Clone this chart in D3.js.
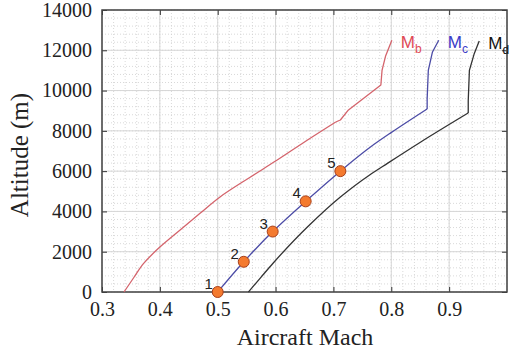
<!DOCTYPE html>
<html>
<head>
<meta charset="utf-8">
<script src="https://cdn.jsdelivr.net/npm/d3@7"></script>
<style>
  body { margin: 0; background: #fff; }
  svg { display: block; }
</style>
</head>
<body>
<svg width="513" height="349"></svg>
<script>
// Curve data: [Mach, altitude (m)]
var mbCurve = [[0.338,0],[0.355,720],[0.372,1420],[0.40,2230],[0.435,3080],[0.47,3920],[0.504,4720],
  [0.556,5700],[0.60,6500],[0.65,7450],[0.704,8440],[0.712,8540],[0.726,9040],[0.782,10280],
  [0.784,11000],[0.790,11700],[0.801,12500]];
var mcCurve = [[0.5,0],[0.545,1500],[0.595,3000],[0.652,4500],[0.712,6000],[0.764,7200],[0.799,7900],
  [0.862,9090],[0.862,9600],[0.864,11000],[0.871,11900],[0.882,12500]];
var mdCurve = [[0.553,0],[0.575,740],[0.596,1440],[0.655,3230],[0.712,4720],[0.762,5800],[0.794,6400],
  [0.851,7450],[0.933,8890],[0.933,9500],[0.935,11000],[0.943,11800],[0.952,12460]];
// index where the smooth climb ends and the straight upper segments start
var mbKink = 10, mcKink = 7, mdKink = 8;
var pointMach = [0.5, 0.545, 0.595, 0.652, 0.712];
var pointAlt = [0, 1500, 3000, 4500, 6000];
var pointLabels = ["1", "2", "3", "4", "5"];
var xTicks = [0.3, 0.4, 0.5, 0.6, 0.7, 0.8, 0.9];
var yTicks = [0, 2000, 4000, 6000, 8000, 10000, 12000, 14000];

var svg = d3.select("svg");
var plotLeft = 102, plotRight = 507, plotTop = 10, plotBottom = 292;

var x = d3.scaleLinear().domain([0.3, 1.0]).range([plotLeft, plotRight]);
var y = d3.scaleLinear().domain([0, 14000]).range([plotBottom, plotTop]);

// minor dotted grid
var minorX = d3.range(0.3, 1.0001, 0.02);
var minorY = d3.range(0, 14001, 400);
svg.append("g").selectAll("line").data(minorX).enter().append("line")
  .attr("x1", d => x(d)).attr("x2", d => x(d)).attr("y1", plotTop).attr("y2", plotBottom)
  .attr("stroke", "#cfcfcf").attr("stroke-width", 0.8).attr("stroke-dasharray", "1,2");
svg.append("g").selectAll("line").data(minorY).enter().append("line")
  .attr("y1", d => y(d)).attr("y2", d => y(d)).attr("x1", plotLeft).attr("x2", plotRight)
  .attr("stroke", "#cfcfcf").attr("stroke-width", 0.8).attr("stroke-dasharray", "1,2");

// major grid
svg.append("g").selectAll("line").data(d3.range(0.3, 1.0001, 0.1)).enter().append("line")
  .attr("x1", d => x(d)).attr("x2", d => x(d)).attr("y1", plotTop).attr("y2", plotBottom)
  .attr("stroke", "#d6d6d6").attr("stroke-width", 1);
svg.append("g").selectAll("line").data(yTicks).enter().append("line")
  .attr("y1", d => y(d)).attr("y2", d => y(d)).attr("x1", plotLeft).attr("x2", plotRight)
  .attr("stroke", "#d6d6d6").attr("stroke-width", 1);

// axes with inward ticks, mirrored on top/right
function styleAxis(g) {
  g.select(".domain").remove();
  g.selectAll(".tick line").attr("stroke", "#333").attr("stroke-width", 1);
  g.selectAll("text").attr("font-family", "'Liberation Serif', 'Times New Roman', serif")
    .attr("font-size", 20).attr("fill", "#222");
}
svg.append("g").attr("transform", "translate(0," + plotBottom + ")")
  .call(d3.axisBottom(x).tickValues(xTicks).tickFormat(d3.format(".1f")).tickSizeInner(-5).tickPadding(10))
  .call(styleAxis);
svg.append("g").attr("transform", "translate(" + plotLeft + ",0)")
  .call(d3.axisLeft(y).tickValues(yTicks).tickFormat(d3.format("d")).tickSizeInner(-5).tickPadding(10))
  .call(styleAxis);
svg.append("g").attr("transform", "translate(0," + plotTop + ")")
  .call(d3.axisTop(x).tickValues(xTicks).tickFormat("").tickSizeInner(-5))
  .call(styleAxis);
svg.append("g").attr("transform", "translate(" + plotRight + ",0)")
  .call(d3.axisRight(y).tickValues(yTicks).tickFormat("").tickSizeInner(-5))
  .call(styleAxis);

svg.append("rect").attr("x", plotLeft).attr("y", plotTop)
  .attr("width", plotRight - plotLeft).attr("height", plotBottom - plotTop)
  .attr("fill", "none").attr("stroke", "#444").attr("stroke-width", 1.5);

// curves: smooth climb (monotone in altitude), then straight segments above the kink
var smoothLine = d3.line().curve(d3.curveMonotoneY).x(d => x(d[0])).y(d => y(d[1]));
var straightLine = d3.line().x(d => x(d[0])).y(d => y(d[1]));
var curves = [
  { data: mbCurve, kink: mbKink, color: "#d4646c", sub: "b", labelColor: "#e04a55" },
  { data: mcCurve, kink: mcKink, color: "#4c4ca6", sub: "c", labelColor: "#3a3ac8" },
  { data: mdCurve, kink: mdKink, color: "#333333", sub: "d", labelColor: "#111" }
];
curves.forEach(function (c) {
  var g = svg.append("g").attr("fill", "none").attr("stroke", c.color)
    .attr("stroke-width", 1.3).attr("stroke-linejoin", "round");
  g.append("path").attr("d", smoothLine(c.data.slice(0, c.kink + 1)));
  g.append("path").attr("d", straightLine(c.data.slice(c.kink)));
  var end = c.data[c.data.length - 1];
  var t = svg.append("text")
    .attr("x", x(end[0]) + 9).attr("y", y(end[1]) + 8)
    .attr("font-family", "'Liberation Sans', Arial, sans-serif")
    .attr("font-size", 17).attr("fill", c.labelColor);
  t.append("tspan").text("M");
  t.append("tspan").attr("dy", 5).attr("font-size", 12).text(c.sub);
});

// numbered operating points
svg.append("g").selectAll("circle").data(pointMach).enter().append("circle")
  .attr("cx", d => x(d)).attr("cy", (d, i) => y(pointAlt[i])).attr("r", 5.5)
  .attr("fill", "#f47a2e").attr("stroke", "#a8401a").attr("stroke-width", 1);
svg.append("g").selectAll("text").data(pointMach).enter().append("text")
  .attr("x", d => x(d) - 9).attr("y", (d, i) => y(pointAlt[i]) - 3)
  .attr("text-anchor", "middle")
  .attr("font-family", "'Liberation Sans', Arial, sans-serif")
  .attr("font-size", 15).attr("fill", "#222")
  .text((d, i) => pointLabels[i]);

// axis titles
svg.append("text").attr("x", 305).attr("y", 345).attr("text-anchor", "middle")
  .attr("font-family", "'Liberation Serif', 'Times New Roman', serif")
  .attr("font-size", 24).attr("fill", "#222").text("Aircraft Mach");
svg.append("text").attr("transform", "translate(28,155) rotate(-90)").attr("text-anchor", "middle")
  .attr("font-family", "'Liberation Serif', 'Times New Roman', serif")
  .attr("font-size", 25).attr("fill", "#222").text("Altitude (m)");
</script>
</body>
</html>
